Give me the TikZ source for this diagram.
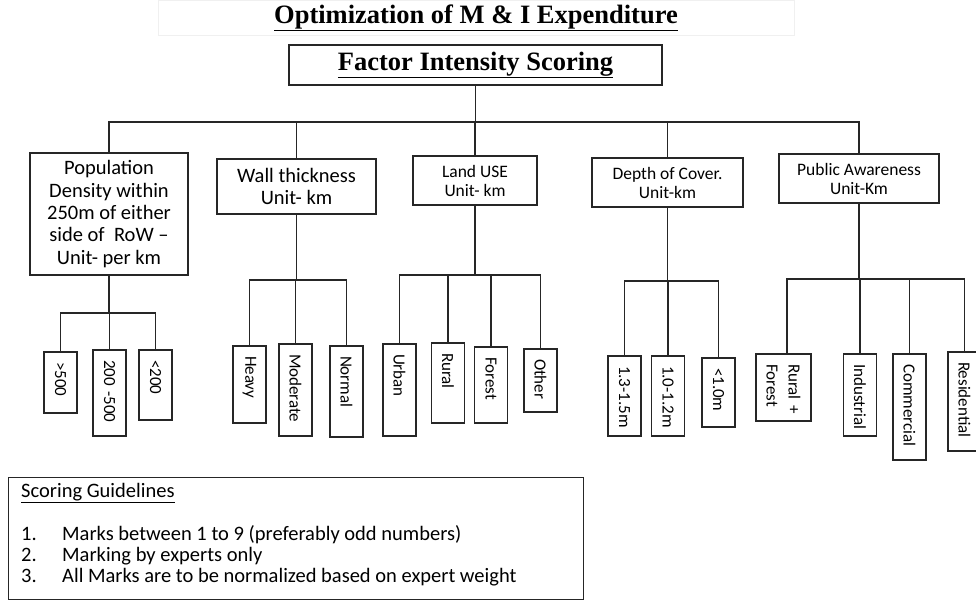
\documentclass[tikz,border=0pt]{standalone}
\usepackage{fontspec}
\setmainfont{Carlito}
\newfontfamily\headfont{Liberation Serif}
\begin{document}
\begin{tikzpicture}[x=1pt,y=-1pt,
  wire/.style={draw=black!85,line width=1.1pt},
  catbox/.style={draw=black!85,line width=1.1pt,inner sep=0pt,align=center},
  bigcat/.style={catbox,font=\fontsize{20.5}{22.3}\selectfont},
  smallcat/.style={catbox,font=\fontsize{17.5}{19}\selectfont},
  leaf/.style={draw=black!85,line width=1.1pt,rotate=-90,inner xsep=10pt,inner ysep=0pt,
    minimum height=33pt,text width=#1,align=left,font=\fontsize{17}{18}\selectfont},
  guide/.style={anchor=base west,inner sep=0pt,font=\fontsize{20.5}{21}\selectfont}]
\useasboundingbox (0,0) rectangle (976,599);
\begin{scope}
\clip (0,0) rectangle (976,599);

% headings
\node[draw=black!6,line width=0.8pt,minimum width=636pt,minimum height=35pt,inner sep=0pt,
  font=\headfont\bfseries\fontsize{26.5}{28}\selectfont] (title) at (476,18)
  {\underline{Optimization of M \& I Expenditure}};
\node[catbox,minimum width=373pt,minimum height=40pt,
  font=\headfont\bfseries\fontsize{26.5}{28}\selectfont] (top) at (475.5,65)
  {\underline{Factor Intensity Scoring}};

% factor boxes
\node[bigcat,minimum width=158pt,minimum height=122pt] (pop) at (109,214)
  {Population\\Density within\\250m of either\\side of\ \ RoW --\\Unit- per km};
\node[bigcat,minimum width=159pt,minimum height=55pt] (wall) at (296.5,186.5)
  {Wall thickness\\Unit- km};
\node[smallcat,minimum width=124pt,minimum height=49pt] (land) at (475,180.5)
  {Land USE\\Unit- km};
\node[smallcat,minimum width=151pt,minimum height=49pt] (depth) at (667.5,182.5)
  {Depth of Cover.\\Unit-km};
\node[smallcat,minimum width=160pt,minimum height=49pt] (pub) at (859,178.5)
  {Public Awareness\\Unit-Km};

% intensity levels (text runs top to bottom, from the upper end of each box)
\node[leaf=41pt] (a1) at (60.5,382.5) {\mbox{>500}};
\node[leaf=66pt] (a2) at (109.5,393) {\mbox{200 -500}};
\node[leaf=50pt] (a3) at (155.5,385) {\mbox{<200}};

\node[leaf=57pt] (b1) at (249.5,384.5) {\mbox{Heavy}};
\node[leaf=72pt] (b2) at (295.5,390) {\mbox{Moderate}};
\node[leaf=71pt] (b3) at (346.5,391.5) {\mbox{Normal}};

\node[leaf=72pt] (c1) at (399.5,390) {\mbox{Urban}};
\node[leaf=60pt] (c2) at (448,383) {\mbox{Rural}};
\node[leaf=56pt] (c3) at (491,385) {\mbox{Forest}};
\node[leaf=43pt] (c4) at (540.5,380.5) {\mbox{Other}};

\node[leaf=60pt] (d1) at (624.5,396) {\mbox{1.3-1.5m}};
\node[leaf=60pt] (d2) at (668,396) {\mbox{1.0-1.2m}};
\node[leaf=49pt] (d3) at (718.5,392.5) {\mbox{<1.0m}};

\node[leaf=47pt,minimum height=55pt,font=\fontsize{17}{22}\selectfont] (e1) at (783.5,387.5)
  {\mbox{Rural +}\\\mbox{Forest}};
\node[leaf=62pt] (e2) at (860,395) {\mbox{Industrial}};
\node[leaf=86pt] (e3) at (909.5,407) {\mbox{Commercial}};
\node[leaf=79pt] (e4) at (964.5,401.5) {\mbox{Residential}};

% tree connectors
\coordinate (bus) at (0,122);
\draw[wire] (top.south) -- (top.south |- bus);
\draw[wire] (pop.north) -- (pop.north |- bus) -- (pub.north |- bus) -- (pub.north);
\draw[wire] (wall.north) -- (wall.north |- bus);
\draw[wire] (land.north) -- (land.north |- bus);
\draw[wire] (depth.north) -- (depth.north |- bus);

\coordinate (popj) at (0,313);
\draw[wire] (pop.south) -- (pop.south |- popj);
\draw[wire] (a1.west) -- (a1.west |- popj) -- (a3.west |- popj) -- (a3.west);
\draw[wire] (a2.west) -- (a2.west |- popj);

\coordinate (wallj) at (0,280);
\draw[wire] (wall.south) -- (wall.south |- wallj);
\draw[wire] (b1.west) -- (b1.west |- wallj) -- (b3.west |- wallj) -- (b3.west);
\draw[wire] (b2.west) -- (b2.west |- wallj);

\coordinate (landj) at (0,275);
\draw[wire] (land.south) -- (land.south |- landj);
\draw[wire] (c1.west) -- (c1.west |- landj) -- (c4.west |- landj) -- (c4.west);
\draw[wire] (c2.west) -- (c2.west |- landj);
\draw[wire] (c3.west) -- (c3.west |- landj);

\coordinate (depthj) at (0,281);
\draw[wire] (depth.south) -- (depth.south |- depthj);
\draw[wire] (d1.west) -- (d1.west |- depthj) -- (d3.west |- depthj) -- (d3.west);
\draw[wire] (d2.west) -- (d2.west |- depthj);

\coordinate (pubj) at (0,279);
\draw[wire] (pub.south) -- (pub.south |- pubj);
\draw[wire] ([xshift=3.5pt]e1.west) -- ([xshift=3.5pt]e1.west |- pubj) -- (e4.west |- pubj) -- (e4.west);
\draw[wire] (e2.west) -- (e2.west |- pubj);
\draw[wire] (e3.west) -- (e3.west |- pubj);

% scoring guidelines
\node[draw=black!85,line width=1.1pt,minimum width=575pt,minimum height=122pt,inner sep=0pt,
  anchor=north west] (guidebox) at (8,477) {};
\node[guide] (g0) at (21,497) {\underline{Scoring Guidelines}};
\node[guide] (g1) at (21,540) {1.};
\node[guide] (g1t) at (62,540) {Marks between 1 to 9 (preferably odd numbers)};
\node[guide] (g2) at (21,561) {2.};
\node[guide] (g2t) at (62,561) {Marking by experts only};
\node[guide] (g3) at (21,582) {3.};
\node[guide] (g3t) at (62,582) {All Marks are to be normalized based on expert weight};
\end{scope}
\end{tikzpicture}
\end{document}
